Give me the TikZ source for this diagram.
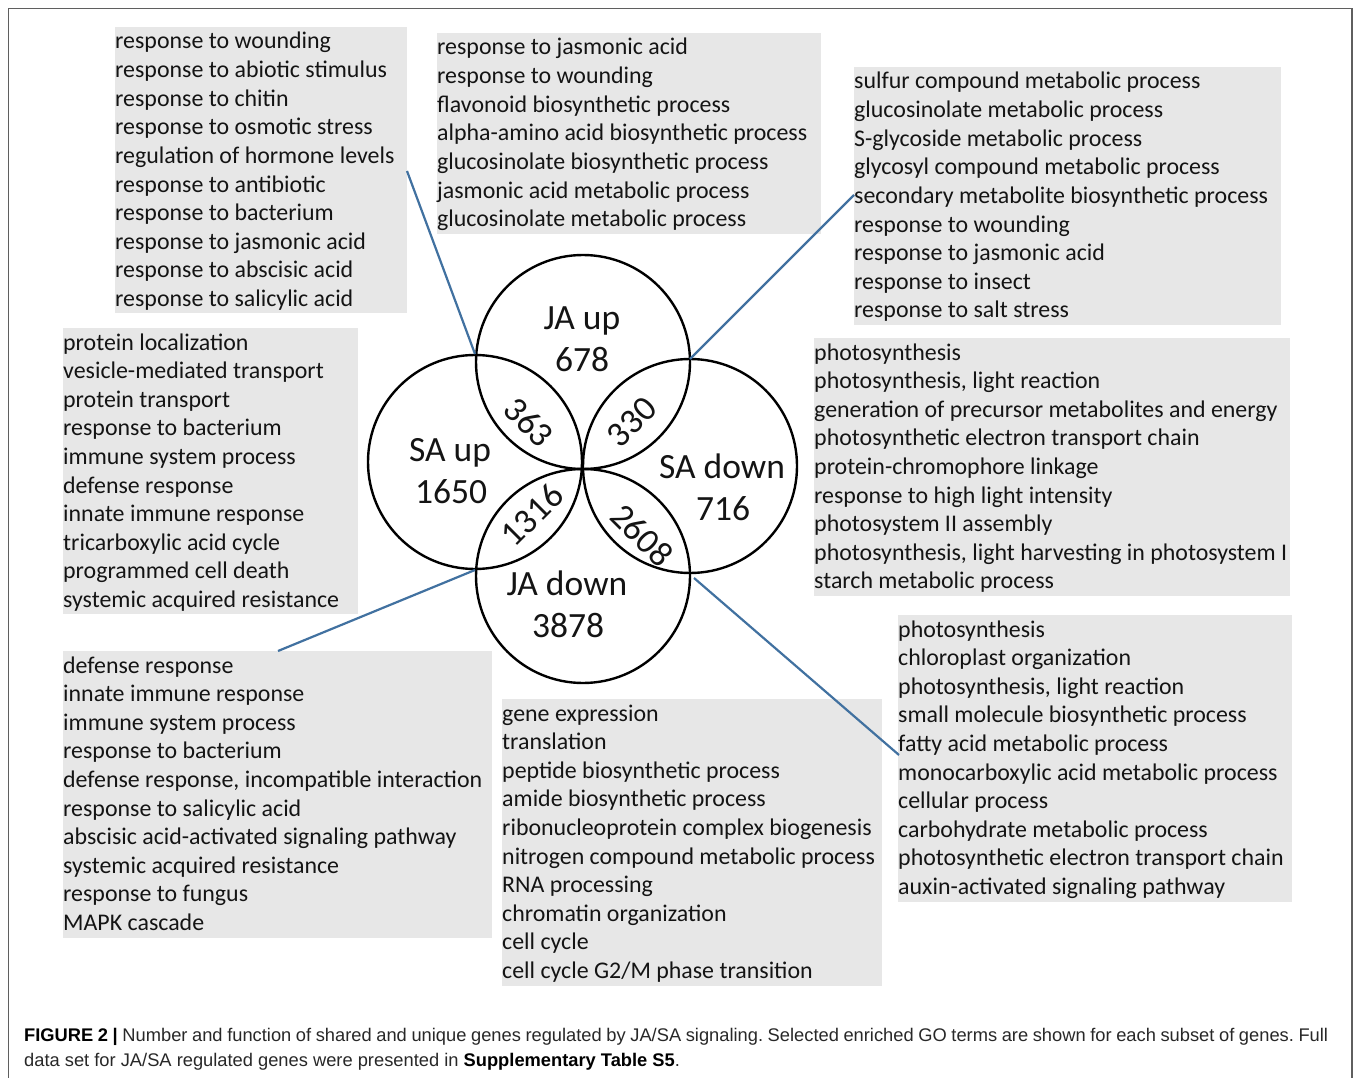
\documentclass[tikz,border=0pt]{standalone}
\usepackage{fontspec}
\setmainfont{Carlito}
\newfontfamily\capfont{Liberation Sans}
\definecolor{boxgray}{RGB}{231,231,231}
\definecolor{connblue}{RGB}{65,113,160}
\definecolor{framegray}{RGB}{95,95,95}
\definecolor{captext}{RGB}{40,40,40}
\definecolor{gotext}{RGB}{20,20,20}
\tikzset{
  gobox/.style={fill=boxgray, draw=none, inner sep=0pt, rectangle},
  goline/.style={inner sep=0pt, text=gotext, font=\fontsize{23.9}{28.6}\selectfont},
  venn/.style={circle, draw=black, line width=2.4pt, minimum size=214pt, inner sep=0pt},
  vennlabel/.style={inner sep=0pt, text=gotext, font=\fontsize{35.5}{40}\selectfont},
  conn/.style={draw=connblue, line width=2.2pt},
  framestyle/.style={draw=framegray, line width=1.2pt},
}
\newcommand\goboxlist[6]{%
  \node[gobox, anchor=north west, minimum width={#4-#2}, minimum height={#5-#3}] (#1) at (#2,#3) {};
  \foreach \goitem [count=\goi from 0] in {#6} {
    \node[goline, anchor=base west] (#1-\goi) at (#2, #3+22+\goi*28.62) {\goitem};
  }%
}
\begin{document}
\begin{tikzpicture}[x=1pt,y=-1pt]
\useasboundingbox (0,0) rectangle (1357,1078);
\fill[white] (0,0) rectangle (1357,1078);
\draw[framestyle] (8.5,1078) -- (8.5,8.7) -- (1352,8.7) -- (1352,1078);

% GO term boxes
\goboxlist{boxA}{115}{27}{407}{313}{response to wounding, response to abiotic stimulus, response to chitin, response to osmotic stress, regulation of hormone levels, response to antibiotic, response to bacterium, response to jasmonic acid, response to abscisic acid, response to salicylic acid}
\goboxlist{boxB}{437}{33}{821}{234}{response to jasmonic acid, response to wounding, flavonoid biosynthetic process, alpha-amino acid biosynthetic process, glucosinolate biosynthetic process, jasmonic acid metabolic process, glucosinolate metabolic process}
\goboxlist{boxC}{854}{67}{1281}{325}{sulfur compound metabolic process, glucosinolate metabolic process, S-glycoside metabolic process, glycosyl compound metabolic process, secondary metabolite biosynthetic process, response to wounding, response to jasmonic acid, response to insect, response to salt stress}
\goboxlist{boxD}{63}{328}{358}{614}{protein localization, vesicle-mediated transport, protein transport, response to bacterium, immune system process, defense response, innate immune response, tricarboxylic acid cycle, programmed cell death, systemic acquired resistance}
\goboxlist{boxE}{814}{338}{1290}{596}{photosynthesis, {photosynthesis, light reaction}, generation of precursor metabolites and energy, photosynthetic electron transport chain, protein-chromophore linkage, response to high light intensity, photosystem II assembly, {photosynthesis, light harvesting in photosystem I}, starch metabolic process}
\goboxlist{boxF}{63}{651}{492}{938}{defense response, innate immune response, immune system process, response to bacterium, {defense response, incompatible interaction}, response to salicylic acid, abscisic acid-activated signaling pathway, systemic acquired resistance, response to fungus, MAPK cascade}
\goboxlist{boxG}{502}{699}{882}{986}{gene expression, translation, peptide biosynthetic process, amide biosynthetic process, ribonucleoprotein complex biogenesis, nitrogen compound metabolic process, RNA processing, chromatin organization, cell cycle, cell cycle G2/M phase transition}
\goboxlist{boxH}{898}{615}{1292}{902}{photosynthesis, chloroplast organization, {photosynthesis, light reaction}, small molecule biosynthetic process, fatty acid metabolic process, monocarboxylic acid metabolic process, cellular process, carbohydrate metabolic process, photosynthetic electron transport chain, auxin-activated signaling pathway}

% Venn circles
\node[venn] (jaup) at (583,362) {};
\node[venn] (saup) at (475,462) {};
\node[venn] (sadown) at (690,466) {};
\node[venn] (jadown) at (583,576) {};

% circle labels
\node[vennlabel, anchor=base] (jauplab) at (582,329.5) {JA up};
\node[vennlabel, anchor=base] (jaupnum) at (582,371) {678};
\node[vennlabel, anchor=base] (sauplab) at (450,461.5) {SA up};
\node[vennlabel, anchor=base] (saupnum) at (451,503) {1650};
\node[vennlabel, anchor=base] (sadownlab) at (722,478) {SA down};
\node[vennlabel, anchor=base] (sadownnum) at (723,520) {716};
\node[vennlabel, anchor=base] (jadownlab) at (567,595) {JA down};
\node[vennlabel, anchor=base] (jadownnum) at (568,637) {3878};
\node[vennlabel, rotate=-45] (n363) at (529,422) {363};
\node[vennlabel, rotate=45] (n330) at (632,422) {330};
\node[vennlabel, rotate=45] (n1316) at (532,515) {1316};
\node[vennlabel, rotate=-45] (n2608) at (642,535) {2608};

% connector end points
\coordinate (cA) at (407,171);
\coordinate (iA) at (475,354);
\coordinate (cC) at (854,195);
\coordinate (iC) at (690,359);
\coordinate (cF) at (278,651);
\coordinate (iF) at (475,570);
\coordinate (cH) at (899,755);
\coordinate (iH) at (694,578);
\draw[conn] (cA) -- (iA);
\draw[conn] (cC) -- (iC);
\draw[conn] (cF) -- (iF);
\draw[conn] (cH) -- (iH);

% caption
\node[inner sep=0pt, anchor=north west, text width=1304pt, align=justify, text=captext,
      font=\capfont\fontsize{18.3}{25}\selectfont\frenchspacing] (caption) at (24,1028) {%
  {\bfseries\color{black}FIGURE 2 |} Number and function of shared and unique genes regulated by JA/SA signaling. Selected enriched GO terms are shown for each subset of genes. Full\linebreak data set for JA/SA regulated genes were presented in {\bfseries\color{black}Supplementary Table S5}.};
\end{tikzpicture}
\end{document}
